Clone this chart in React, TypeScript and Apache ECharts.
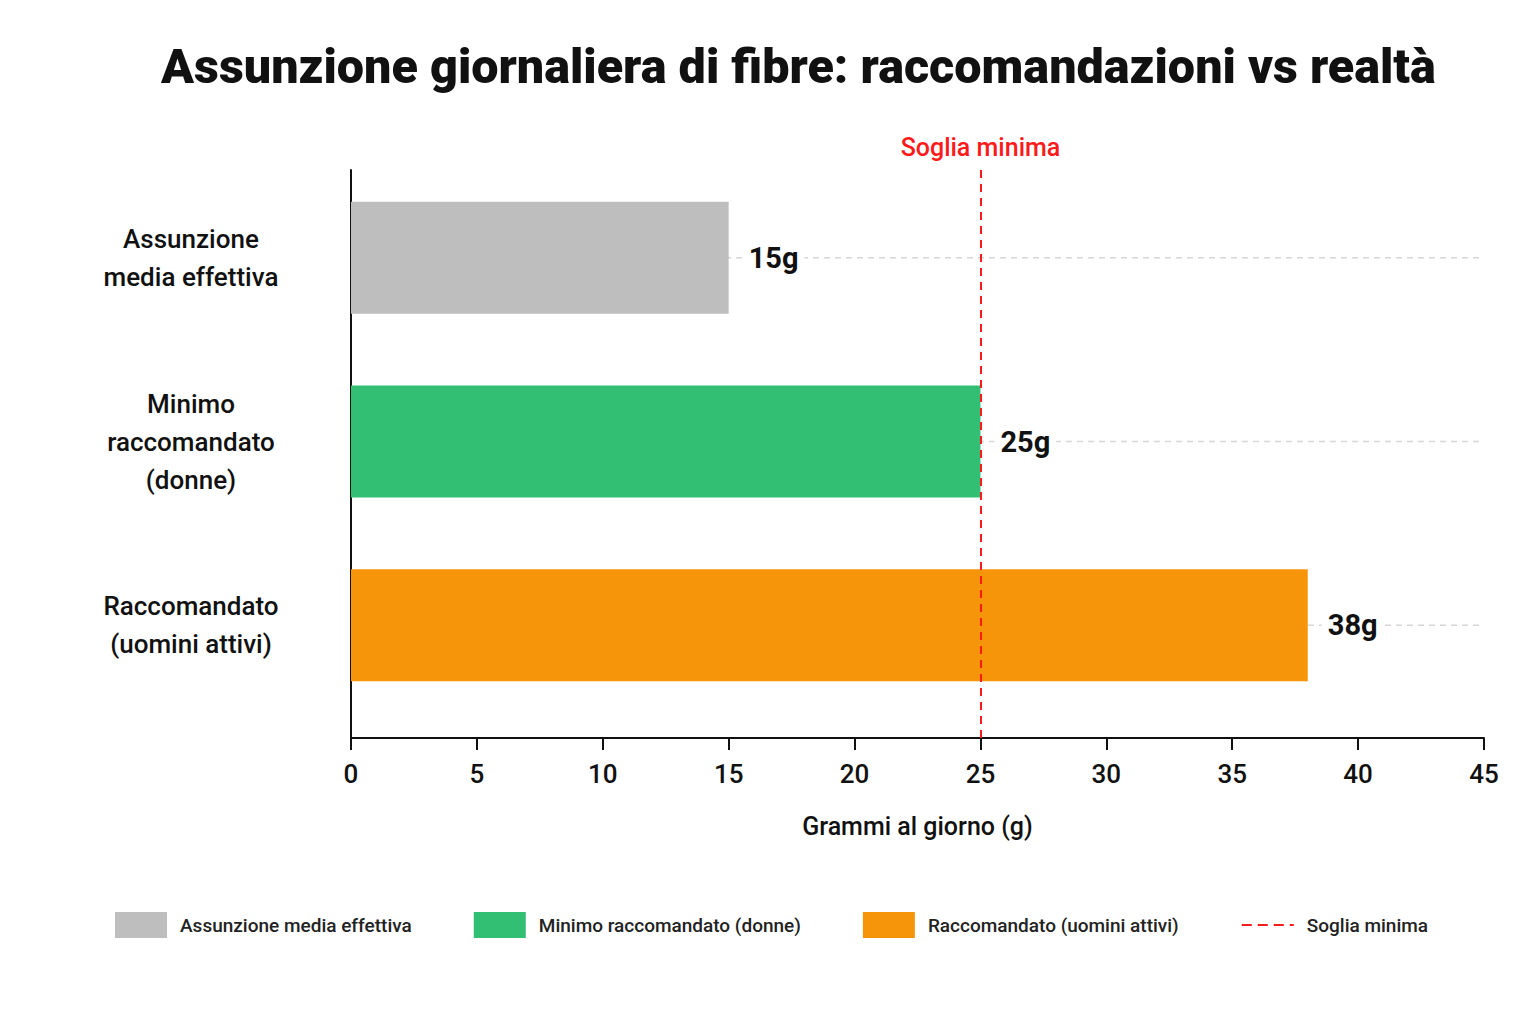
import React, { useEffect, useRef } from 'react';
import * as echarts from 'echarts';

const categories = ['Assunzione\nmedia effettiva', 'Minimo\nraccomandato\n(donne)', 'Raccomandato\n(uomini attivi)'];
const seriesNames = ['Assunzione media effettiva', 'Minimo raccomandato (donne)', 'Raccomandato (uomini attivi)'];
const values = [15, 25, 38];
const colors = ['#bebebf', '#33bf73', '#f7950a'];
const threshold = 25;
const thresholdName = 'Soglia minima';
const xTicks = [0, 5, 10, 15, 20, 25, 30, 35, 40, 45];

const FONT = 'Roboto';
const RED = '#ff1a1a';

const App: React.FC = () => {
  const chartRef = useRef<HTMLDivElement>(null);

  useEffect(() => {
    document.body.style.margin = '0';
    const chart = echarts.init(chartRef.current as HTMLDivElement, null, { renderer: 'svg' });

    const xMin = xTicks[0];
    const xMax = xTicks[xTicks.length - 1];

    const barSeries = seriesNames.map((name, i) => ({
      name,
      type: 'bar',
      stack: 'total',
      z: 3,
      barWidth: '61%',
      itemStyle: { color: colors[i] },
      data: values.map((v, j) => (j === i ? v : '-')),
      label: {
        show: true,
        position: 'right',
        distance: 14,
        formatter: '{c}g',
        fontFamily: FONT,
        fontSize: 29,
        fontWeight: 'bold',
        color: '#111',
        backgroundColor: '#fff',
        padding: [2, 6],
      },
    }));

    // faint dashed guides at each category, drawn under the bars
    const guideSeries = categories.map((_, j) => ({
      name: 'guide' + j,
      type: 'line',
      z: 1,
      symbol: 'none',
      silent: true,
      lineStyle: { color: '#d6d6d6', width: 1.5, type: [6, 5] },
      data: [[xMin, j], [xMax, j]],
    }));

    const option = {
      animation: false,
      backgroundColor: '#fff',
      textStyle: { fontFamily: FONT },
      title: {
        text: 'Assunzione giornaliera di fibre: raccomandazioni vs realtà',
        left: 156,
        top: 37,
        textStyle: { fontFamily: FONT, fontSize: 48.5, fontWeight: 900, color: '#111' },
      },
      legend: {
        data: [
          ...seriesNames.map((name) => ({ name, icon: 'rect' })),
          { name: thresholdName, itemStyle: { color: 'rgba(0,0,0,0)', borderColor: 'rgba(0,0,0,0)', borderWidth: 0 } },
        ],
        bottom: 81,
        left: 110,
        itemWidth: 52,
        itemHeight: 26,
        itemGap: 62,
        textStyle: { fontFamily: FONT, fontSize: 19, fontWeight: 500, color: '#222', padding: [0, 0, 0, 8] },
      },
      grid: [
        // bars
        { left: 351, right: 52, top: 166, bottom: 307, outerBoundsMode: 'none' },
        // frame: axes and threshold
        { left: 351, right: 52, top: 170, bottom: 286, outerBoundsMode: 'none' },
      ],
      xAxis: [
        { type: 'value', gridIndex: 0, min: xMin, max: xMax, interval: 5, show: false },
        {
          type: 'value',
          gridIndex: 1,
          min: xMin,
          max: xMax,
          interval: 5,
          name: 'Grammi al giorno (g)',
          nameLocation: 'middle',
          nameGap: 76,
          nameTextStyle: { fontFamily: FONT, fontSize: 25, fontWeight: 500, color: '#111' },
          axisLine: { show: true, lineStyle: { color: '#111', width: 2 } },
          axisTick: { show: true, length: 12, lineStyle: { color: '#111', width: 2 } },
          axisLabel: { fontFamily: FONT, fontSize: 26, fontWeight: 500, color: '#111', margin: 23 },
          splitLine: { show: false },
        },
      ],
      yAxis: [
        {
          type: 'category',
          gridIndex: 0,
          inverse: true,
          data: categories,
          axisLine: { show: false },
          axisTick: { show: false },
          axisLabel: {
            fontFamily: FONT,
            fontSize: 26,
            fontWeight: 500,
            color: '#111',
            align: 'center',
            margin: 160,
            lineHeight: 38,
          },
        },
        {
          type: 'value',
          gridIndex: 1,
          min: 0,
          max: 1,
          axisLine: { show: true, lineStyle: { color: '#111', width: 2 } },
          axisTick: { show: false },
          axisLabel: { show: false },
          splitLine: { show: false },
        },
      ],
      series: [
        ...guideSeries,
        ...barSeries,
        {
          name: thresholdName,
          type: 'line',
          xAxisIndex: 1,
          yAxisIndex: 1,
          z: 5,
          symbol: 'none',
          data: [],
          itemStyle: { color: RED },
          lineStyle: { color: RED, width: 2.5, type: [10, 6] },
          markLine: {
            silent: true,
            symbol: 'none',
            z: 6,
            lineStyle: { color: RED, width: 2, type: [8, 6] },
            label: {
              show: true,
              position: 'end',
              distance: 10,
              formatter: thresholdName,
              fontFamily: FONT,
              fontSize: 25,
              fontWeight: 500,
              color: RED,
            },
            data: [{ xAxis: threshold }],
          },
        },
      ],
    };

    chart.setOption(option);
    return () => {
      chart.dispose();
    };
  }, []);

  return <div ref={chartRef} style={{ width: '1536px', height: '1024px' }}></div>;
};

export default App;
